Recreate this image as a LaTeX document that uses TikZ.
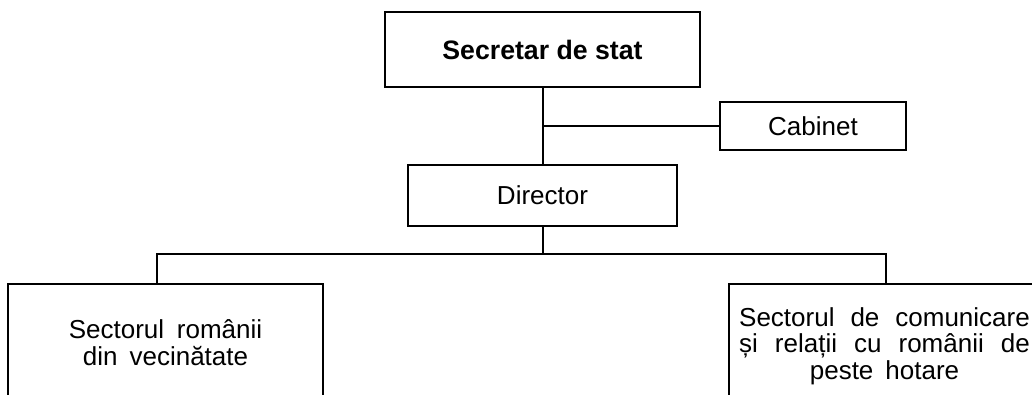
\documentclass[tikz,border=0pt]{standalone}
\usepackage{fontspec}
\setmainfont{Liberation Sans}
\usetikzlibrary{positioning}

\tikzset{every picture/.style={line width=1.5pt}}
\tikzset{
	orgbox/.style={draw, inner sep=0pt, align=center, font=\fontsize{19.5}{20}\selectfont},
	link/.style={line width=1.5pt}
}
\newcommand{\spreadline}[2]{\makebox[#1pt][s]{#2}}

\begin{document}
\begin{tikzpicture}[x=0.75pt,y=0.75pt,yscale=-1,xscale=1]
	\useasboundingbox (0,0) rectangle (1032,394);
	\clip (0,0) rectangle (1032,394);

	% boxes
	\node [orgbox, minimum width=236.25pt, minimum height=56.25pt, font=\fontsize{20}{22}\selectfont] (secretar) at (542.5,49.5) {\textbf{Secretar de stat}};
	\node [orgbox, minimum width=139.5pt, minimum height=36pt] (cabinet) at (813,126) {Cabinet};
	\node [orgbox, minimum width=201.75pt, minimum height=45.75pt] (director) at (542.5,195.5) {Director};
	\node [orgbox, minimum width=236.25pt, minimum height=87.75pt] (vecini) at (165.5,342.5) {\spreadline{145}{Sectorul  românii}\\\spreadline{124}{din  vecinătate}};
	\node [orgbox, minimum width=233.25pt, minimum height=93pt] (hotare) at (884.5,346) {\spreadline{218}{Sectorul de comunicare}\\\spreadline{218}{și relații cu românii de}\\\spreadline{112}{peste hotare}};

	% bus under director
	\coordinate (busL) at (157,254);
	\coordinate (busR) at (886,254);

	% connectors
	\draw [link] (secretar.south) -- (director.north);
	\draw [link] (secretar.south |- cabinet.west) -- (cabinet.west);
	\draw [link] (director.south) -- (director.south |- busL);
	\draw [link] (vecini.north -| busL) -- (busL) -- (busR) -- (hotare.north -| busR);

\end{tikzpicture}
\end{document}
